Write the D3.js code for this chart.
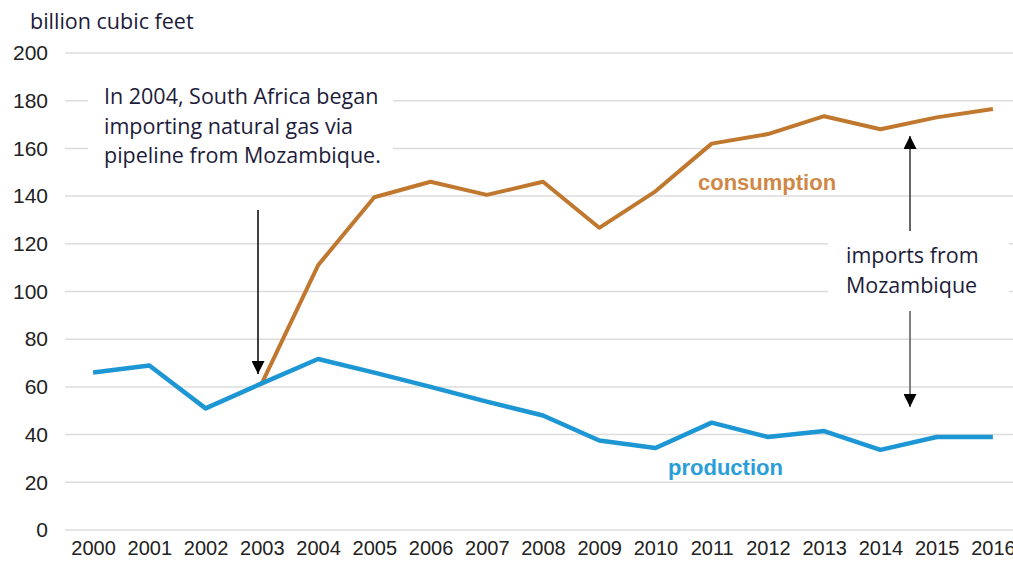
<!DOCTYPE html>
<meta charset="utf-8">
<title>South Africa natural gas</title>
<style>
  body { margin: 0; background: #fff; }
  .tick text { font-family: "Liberation Sans", Arial, sans-serif; fill: #222; }
  .note { font-family: "Open Sans", Lato, sans-serif; font-size: 21.5px; fill: #1c1c3a; }
</style>
<body>
<script src="https://cdn.jsdelivr.net/npm/d3@7"></script>
<script>

const years = d3.range(2000, 2017);
const production = [66, 69, 51, 61.5, 71.7, 66, 60, 53.8, 48, 37.5, 34.4, 45, 39, 41.5, 33.6, 39, 39];
const consumption = [null, null, null, 61.5, 111, 139.5, 146, 140.5, 146, 126.7, 142, 162, 166, 173.5, 168, 173, 176.5];
const yTicks = [0, 20, 40, 60, 80, 100, 120, 140, 160, 180, 200];

const width = 1013, height = 568;

const svg = d3.select("body").append("svg")
    .attr("width", width)
    .attr("height", height);

const x = d3.scalePoint().domain(years).range([65, 1021]).padding(0.5);
const y = d3.scaleLinear().domain([0, 200]).range([530, 53]);

// gridlines
svg.append("g")
    .selectAll("line")
    .data(yTicks)
  .enter().append("line")
    .attr("x1", 65).attr("x2", width)
    .attr("y1", d => y(d)).attr("y2", d => y(d))
    .style("stroke", "#dcdcdc")
    .style("stroke-width", 1.5);

// y axis labels
const yAxis = svg.append("g")
    .attr("transform", "translate(48,0)")
    .call(d3.axisLeft(y).tickValues(yTicks).tickSize(0).tickPadding(0));
yAxis.select(".domain").remove();
yAxis.selectAll("text").style("font-size", "21px");

// x axis labels
const xAxis = svg.append("g")
    .attr("transform", "translate(0,541)")
    .call(d3.axisBottom(x).tickSize(0).tickPadding(0).tickFormat(d3.format("d")));
xAxis.select(".domain").remove();
xAxis.selectAll("text").style("font-size", "20px");

svg.append("text")
    .attr("class", "note")
    .attr("x", 30).attr("y", 29)
    .text("billion cubic feet");

// annotation boxes (white background hides grid)
svg.append("rect")
    .attr("x", 88).attr("y", 78).attr("width", 305).attr("height", 95)
    .style("fill", "#fff");
svg.append("rect")
    .attr("x", 828).attr("y", 234).attr("width", 181).attr("height", 78)
    .style("fill", "#fff");

const defs = svg.append("defs");
defs.append("marker")
    .attr("id", "head")
    .attr("viewBox", "0 0 10 10")
    .attr("refX", 10).attr("refY", 5)
    .attr("markerWidth", 13).attr("markerHeight", 13)
    .attr("markerUnits", "userSpaceOnUse")
    .attr("orient", "auto")
  .append("path")
    .attr("d", "M0,0L10,5L0,10Z")
    .style("fill", "#000");

// lines
const line = d3.line()
    .defined(d => d[1] != null)
    .x(d => x(d[0]))
    .y(d => y(d[1]));

svg.append("path")
    .datum(years.map((yr, i) => [yr, consumption[i]]))
    .attr("d", line)
    .style("fill", "none")
    .style("stroke", "#c0782f")
    .style("stroke-width", 4)
    .style("stroke-linejoin", "round");

svg.append("path")
    .datum(years.map((yr, i) => [yr, production[i]]))
    .attr("d", line)
    .style("fill", "none")
    .style("stroke", "#1d96d4")
    .style("stroke-width", 4.5)
    .style("stroke-linejoin", "round");

// arrows
svg.append("line")
    .attr("x1", 258).attr("y1", 210).attr("x2", 258).attr("y2", 374)
    .style("stroke", "#000").style("stroke-width", 1.5)
    .attr("marker-end", "url(#head)");
svg.append("line")
    .attr("x1", 910).attr("y1", 231).attr("x2", 910).attr("y2", 136)
    .style("stroke", "#333").style("stroke-width", 1.5)
    .attr("marker-end", "url(#head)");
svg.append("line")
    .attr("x1", 910).attr("y1", 311).attr("x2", 910).attr("y2", 407)
    .style("stroke", "#555").style("stroke-width", 1.5)
    .attr("marker-end", "url(#head)");

// texts
const leftNote = ["In 2004, South Africa began", "importing natural gas via", "pipeline from Mozambique."];
svg.append("text").attr("class", "note")
    .selectAll("tspan").data(leftNote)
  .enter().append("tspan")
    .attr("x", 104).attr("y", (d, i) => 104 + i * 29.5)
    .text(d => d);

const rightNote = ["imports from", "Mozambique"];
svg.append("text").attr("class", "note")
    .selectAll("tspan").data(rightNote)
  .enter().append("tspan")
    .attr("x", 846).attr("y", (d, i) => 263 + i * 29.5)
    .text(d => d);

svg.append("text")
    .attr("x", 698).attr("y", 190)
    .style("font-family", "'Liberation Sans', Arial, sans-serif")
    .style("font-weight", "bold").style("font-size", "22px")
    .style("fill", "#cf8846")
    .text("consumption");

svg.append("text")
    .attr("x", 668).attr("y", 475)
    .style("font-family", "'Liberation Sans', Arial, sans-serif")
    .style("font-weight", "bold").style("font-size", "22px")
    .style("fill", "#2a9ed8")
    .text("production");

</script>
</body>
